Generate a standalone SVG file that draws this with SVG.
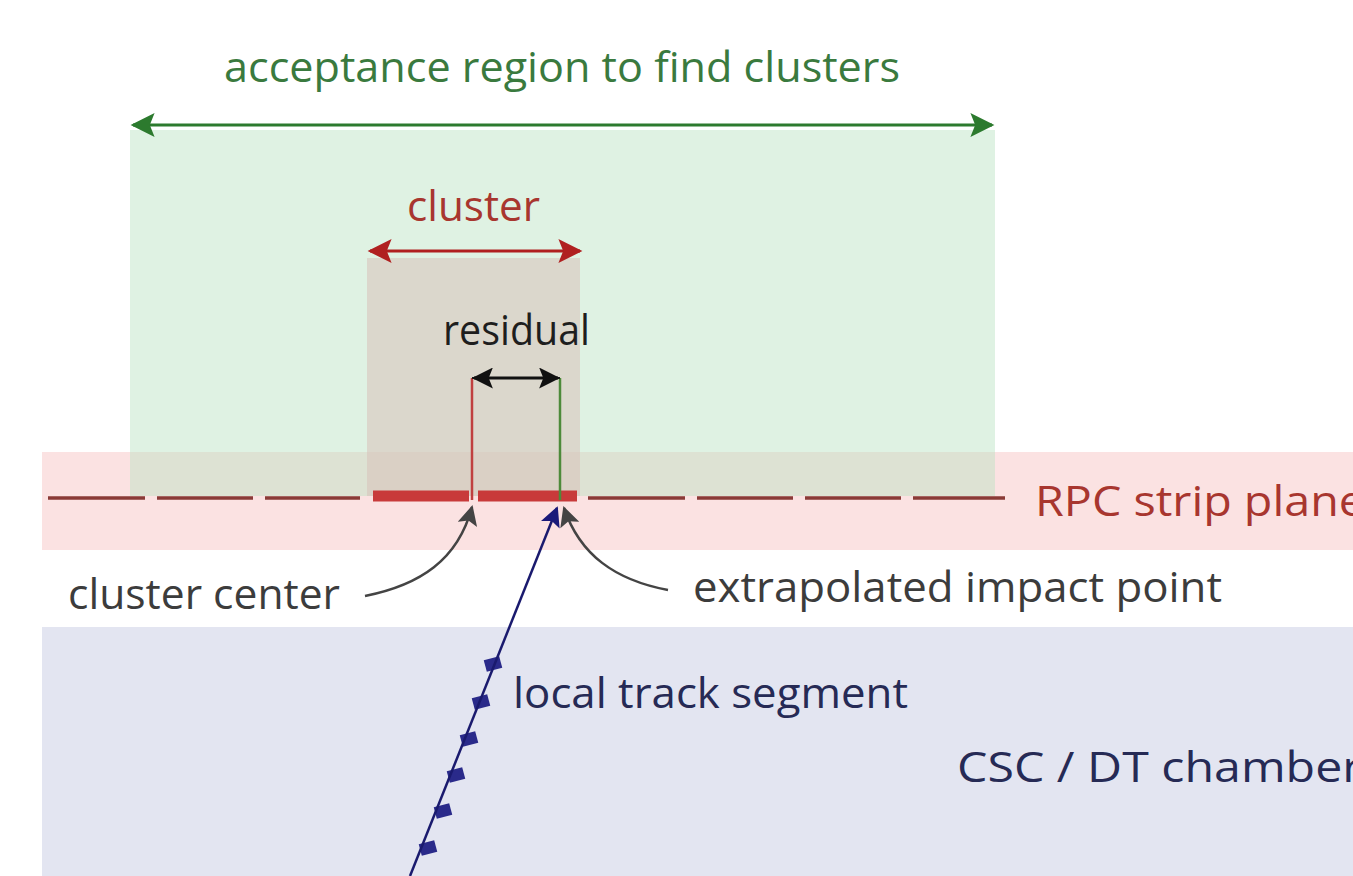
<svg xmlns="http://www.w3.org/2000/svg" width="1353" height="876" viewBox="0 0 1353 876">
  <style>
    text { font-family: "Open Sans", "Liberation Sans", sans-serif; font-size: 42px; }
    .green { fill: #3a7a3e; }
    .red { fill: #a8362f; }
    .dark { fill: #3c3c3c; }
    .navy { fill: #262a55; }
  </style>
  <defs>
    <marker id="ahGreen" viewBox="0 0 10 10" refX="9" refY="5" markerWidth="9" markerHeight="8" orient="auto-start-reverse">
      <path d="M0,0 L10,5 L0,10 L2,5 Z" fill="#2c7a2e"/>
    </marker>
    <marker id="ahRed" viewBox="0 0 10 10" refX="9" refY="5" markerWidth="8.5" markerHeight="8" orient="auto-start-reverse">
      <path d="M0,0 L10,5 L0,10 L2,5 Z" fill="#b02020"/>
    </marker>
    <marker id="ahBlack" viewBox="0 0 10 10" refX="9" refY="5" markerWidth="7" markerHeight="7" orient="auto-start-reverse">
      <path d="M0,0 L10,5 L0,10 L2,5 Z" fill="#111"/>
    </marker>
    <marker id="ahGray" viewBox="0 0 10 10" refX="9" refY="5" markerWidth="9" markerHeight="8" orient="auto">
      <path d="M0,0 L10,5 L0,10 L2,5 Z" fill="#444"/>
    </marker>
    <marker id="ahNavy" viewBox="0 0 10 10" refX="9" refY="5" markerWidth="9" markerHeight="8" orient="auto">
      <path d="M0,0 L10,5 L0,10 L2,5 Z" fill="#1a1a7a"/>
    </marker>
  </defs>

  <rect width="1353" height="876" fill="#ffffff"/>

  <!-- chamber volume -->
  <g id="chamber">
    <rect x="42" y="627" width="1311" height="249" fill="#e3e5f1"/>
    <text class="navy" x="957" y="782" textLength="405" lengthAdjust="spacingAndGlyphs">CSC / DT chamber</text>
  </g>

  <!-- RPC strip plane band -->
  <g id="rpc-plane">
    <rect x="42" y="452" width="1311" height="98" fill="#fbe2e2"/>
  </g>

  <!-- acceptance region -->
  <g id="acceptance">
    <rect x="130" y="130" width="865" height="366" fill="#b8e3c2" fill-opacity="0.45"/>
    <text class="green" x="224" y="82" textLength="676" lengthAdjust="spacingAndGlyphs">acceptance region to find clusters</text>
  </g>

  <!-- cluster region -->
  <g id="cluster">
    <rect x="367" y="258" width="213" height="238" fill="#d8c5bd" fill-opacity="0.6"/>
    <text class="red" x="407" y="221" textLength="133" lengthAdjust="spacingAndGlyphs">cluster</text>
  </g>

  <!-- strips -->
  <g id="strips" stroke-linecap="butt">
    <g stroke="#8a3a36" stroke-width="3.5">
      <line x1="48" y1="498" x2="145" y2="498"/>
      <line x1="157" y1="498" x2="253" y2="498"/>
      <line x1="265" y1="498" x2="360" y2="498"/>
      <line x1="588" y1="498" x2="685" y2="498"/>
      <line x1="697" y1="498" x2="793" y2="498"/>
      <line x1="805" y1="498" x2="901" y2="498"/>
      <line x1="913" y1="498" x2="1005" y2="498"/>
    </g>
    <g stroke="#c83a3a" stroke-width="11">
      <line x1="373" y1="496" x2="469" y2="496"/>
      <line x1="478" y1="496" x2="577" y2="496"/>
    </g>
    <text class="red" x="1035" y="516" textLength="330" lengthAdjust="spacingAndGlyphs">RPC strip plane</text>
  </g>

  <!-- residual -->
  <g id="residual">
    <line x1="472" y1="378" x2="472" y2="500" stroke="#c04040" stroke-width="2.5"/>
    <line x1="560" y1="378" x2="560" y2="500" stroke="#4d8a3a" stroke-width="2.5"/>
    <line x1="472" y1="378" x2="560" y2="378" stroke="#222" stroke-width="2"/>
    <text x="443" y="345" textLength="147" lengthAdjust="spacingAndGlyphs" fill="#1e1e1e">residual</text>
  </g>

  <!-- labels below plane -->
  <g id="cluster-center">
    <text class="dark" x="68" y="609" textLength="272" lengthAdjust="spacingAndGlyphs">cluster center</text>
  </g>
  <g id="impact-point">
    <text class="dark" x="693" y="602" textLength="529" lengthAdjust="spacingAndGlyphs">extrapolated impact point</text>
  </g>

  <!-- track segment -->
  <g id="track">
    <g fill="#2a2a8a">
      <rect x="485" y="658" width="16" height="12" transform="rotate(-15 493 664)"/>
      <rect x="473" y="696" width="16" height="12" transform="rotate(-15 481 702)"/>
      <rect x="461" y="733" width="16" height="12" transform="rotate(-15 469 739)"/>
      <rect x="448" y="769" width="16" height="12" transform="rotate(-15 456 775)"/>
      <rect x="435" y="805" width="16" height="12" transform="rotate(-15 443 811)"/>
      <rect x="420" y="842" width="16" height="12" transform="rotate(-15 428 848)"/>
    </g>
    <text class="navy" x="513" y="708" textLength="395" lengthAdjust="spacingAndGlyphs">local track segment</text>
  </g>

  <!-- connectors -->
  <g id="connectors" fill="none">
    <line x1="133" y1="125" x2="992" y2="125" stroke="#2c7a2e" stroke-width="3" marker-start="url(#ahGreen)" marker-end="url(#ahGreen)"/>
    <line x1="370" y1="251" x2="580" y2="251" stroke="#b02020" stroke-width="3" marker-start="url(#ahRed)" marker-end="url(#ahRed)"/>
    <line x1="474" y1="378" x2="558" y2="378" stroke="#111" stroke-width="3" marker-start="url(#ahBlack)" marker-end="url(#ahBlack)"/>
    <path d="M365,596 C420,585 458,560 472,507" stroke="#444" stroke-width="2.5" marker-end="url(#ahGray)"/>
    <path d="M668,590 C615,580 580,555 564,508" stroke="#444" stroke-width="2.5" marker-end="url(#ahGray)"/>
    <line x1="410" y1="876" x2="557" y2="508" stroke="#1a1a6e" stroke-width="2.5" marker-end="url(#ahNavy)"/>
  </g>
</svg>
